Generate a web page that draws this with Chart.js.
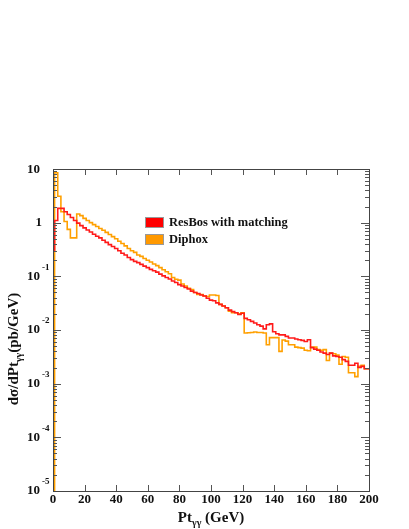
<!DOCTYPE html>
<html>
<head>
<meta charset="utf-8">
<title>Pt gamma-gamma spectrum</title>
<script src="https://cdn.jsdelivr.net/npm/chart.js@4.4.1/dist/chart.umd.min.js"></script>
<style>
  html, body { margin: 0; padding: 0; background: #fff; }
  #wrap { width: 409px; height: 529px; }
</style>
</head>
<body>
<div id="wrap"><canvas id="chart" width="409" height="529"></canvas></div>
<script>
// histogram binning (GeV)
const firstEdge = 1;
const binWidth = 2;

// dσ/dPt (pb/GeV), one value per 2 GeV bin starting at 1 GeV
const resbos = [
  1.1, 1.85, 1.85, 1.6, 1.42, 1.25, 1.1, 0.98, 0.88, 0.8,
  0.73, 0.67, 0.61, 0.56, 0.52, 0.47, 0.43, 0.39, 0.36, 0.33,
  0.3, 0.27, 0.25, 0.225, 0.205, 0.19, 0.18, 0.167, 0.155, 0.145,
  0.135, 0.127, 0.12, 0.11, 0.102, 0.095, 0.089, 0.082, 0.077, 0.07,
  0.066, 0.062, 0.058, 0.053, 0.05, 0.048, 0.045, 0.043, 0.039, 0.036,
  0.035, 0.032, 0.03, 0.028, 0.026, 0.0235, 0.022, 0.021, 0.0195, 0.0205,
  0.0165, 0.0155, 0.0145, 0.0135, 0.0125, 0.0118, 0.0105, 0.0125, 0.013, 0.0093,
  0.0085, 0.0081, 0.0081, 0.0076, 0.0071, 0.0071, 0.0068, 0.0066, 0.0064, 0.0061,
  0.0066, 0.0047, 0.0044, 0.0042, 0.0039, 0.0037, 0.0035, 0.0037, 0.0033, 0.0032,
  0.0031, 0.0028, 0.0026, 0.0022, 0.0022, 0.0024, 0.002, 0.0021, 0.0019, 0.0019
];
const diphox = [
  8.5, 3.1, 1.6, 1.05, 0.75, 0.52, 0.52, 1.45, 1.35, 1.2,
  1.1, 1.0, 0.92, 0.85, 0.78, 0.72, 0.66, 0.6, 0.55, 0.5,
  0.45, 0.41, 0.37, 0.33, 0.3, 0.28, 0.25, 0.235, 0.215, 0.2,
  0.185, 0.17, 0.158, 0.145, 0.133, 0.122, 0.112, 0.095, 0.088, 0.085,
  0.072, 0.066, 0.06, 0.057, 0.05, 0.046, 0.046, 0.043, 0.042, 0.045,
  0.045, 0.044, 0.03, 0.028, 0.026, 0.0225, 0.021, 0.021, 0.02, 0.021,
  0.0088, 0.0089, 0.009, 0.0092, 0.009, 0.009, 0.0088, 0.0053, 0.0072, 0.0072,
  0.0072, 0.004, 0.0065, 0.0062, 0.0053, 0.0053, 0.0048, 0.0047, 0.0046, 0.0042,
  0.0041, 0.0048, 0.0048, 0.0043, 0.0042, 0.0043, 0.0027, 0.0037, 0.0036, 0.0034,
  0.0023, 0.0032, 0.0031, 0.0016, 0.0016, 0.00135, 0.0021, 0.0022, 0.0019, 0.0019
];
// value of the left-most piece before the first bin
const resbosStart = 0.3;
const diphoxStart = 1e-7;

const seriesNames = ["ResBos with matching", "Diphox"];
const seriesColors = ["#ff1a1a", "#ffa000"];
const legendColors = ["#ff0000", "#ff9900"];
const xTicks = [0, 20, 40, 60, 80, 100, 120, 140, 160, 180, 200];
const yDecades = [-5, -4, -3, -2, -1, 0, 1];

const serif = '"Liberation Serif", "DejaVu Serif", serif';

// build step points: one at each bin lower edge, plus closing edge
function histPoints(values, startValue) {
  const pts = [{ x: 0, y: startValue }];
  values.forEach((v, i) => pts.push({ x: firstEdge + i * binWidth, y: v }));
  pts.push({ x: firstEdge + values.length * binWidth, y: values[values.length - 1] });
  return pts;
}

// frame, ticks, labels, titles and legend
const decorations = {
  id: "decorations",
  afterDraw(chart) {
    const ctx = chart.ctx;
    const area = chart.chartArea;
    const xs = chart.scales.x;
    const ys = chart.scales.y;
    ctx.save();

    // ticks
    ctx.strokeStyle = "#555";
    ctx.lineWidth = 1;
    ctx.beginPath();
    xTicks.forEach(t => {
      const px = Math.round(xs.getPixelForValue(t)) + 0.5;
      ctx.moveTo(px, area.bottom); ctx.lineTo(px, area.bottom - 6);
      ctx.moveTo(px, area.top); ctx.lineTo(px, area.top + 6);
    });
    yDecades.forEach(d => {
      for (let m = 1; m <= 9; m++) {
        if (d === 1 && m > 1) continue;
        const py = Math.round(ys.getPixelForValue(m * Math.pow(10, d))) + 0.5;
        const len = m === 1 ? 8 : 4;
        ctx.moveTo(area.left, py); ctx.lineTo(area.left + len, py);
        ctx.moveTo(area.right, py); ctx.lineTo(area.right - len, py);
      }
    });
    ctx.stroke();

    // frame
    ctx.strokeStyle = "#444";
    ctx.strokeRect(Math.round(area.left) + 0.5, Math.round(area.top) + 0.5,
      Math.round(area.right - area.left), Math.round(area.bottom - area.top));

    // x tick labels
    ctx.fillStyle = "#111";
    ctx.font = "bold 13px " + serif;
    ctx.textAlign = "center";
    ctx.textBaseline = "middle";
    xTicks.forEach(t => ctx.fillText(String(t), xs.getPixelForValue(t), area.bottom + 9));

    // y tick labels
    yDecades.forEach(d => {
      const py = ys.getPixelForValue(Math.pow(10, d));
      ctx.font = "bold 13px " + serif;
      ctx.textAlign = "right";
      ctx.textBaseline = "middle";
      if (d === 0) {
        ctx.fillText("1", 42, py);
      } else if (d === 1) {
        ctx.fillText("10", 40, py + 1);
      } else {
        ctx.fillText("10", 40, py);
        ctx.font = "bold 9px " + serif;
        ctx.textAlign = "left";
        ctx.fillText(String(d), 42, py - 9);
      }
    });

    // x title
    ctx.textAlign = "left";
    ctx.textBaseline = "alphabetic";
    const big = "bold 15px " + serif;
    const small = "bold 10px " + serif;
    ctx.font = big; const w1 = ctx.measureText("Pt").width;
    ctx.font = small; const w2 = ctx.measureText("γγ").width;
    ctx.font = big; const w3 = ctx.measureText(" (GeV)").width;
    let x0 = 211 - (w1 + w2 + w3) / 2;
    const by = 522;
    ctx.font = big; ctx.fillText("Pt", x0, by);
    ctx.font = small; ctx.fillText("γγ", x0 + w1, by + 4);
    ctx.font = big; ctx.fillText(" (GeV)", x0 + w1 + w2, by);

    // y title (rotated)
    ctx.save();
    ctx.translate(18, 349);
    ctx.rotate(-Math.PI / 2);
    ctx.font = big; const v1 = ctx.measureText("dσ/dPt").width;
    ctx.font = small; const v2 = ctx.measureText("γγ").width;
    ctx.font = big; const v3 = ctx.measureText("(pb/GeV)").width;
    x0 = -(v1 + v2 + v3) / 2;
    ctx.font = big; ctx.fillText("dσ/dPt", x0, 0);
    ctx.font = small; ctx.fillText("γγ", x0 + v1, 4);
    ctx.font = big; ctx.fillText("(pb/GeV)", x0 + v1 + v2, 0);
    ctx.restore();

    // legend
    seriesNames.forEach((name, i) => {
      const top = 217 + i * 17;
      ctx.fillStyle = legendColors[i];
      ctx.fillRect(145, top, 18, 10);
      ctx.strokeStyle = "#999";
      ctx.strokeRect(145.5, top + 0.5, 18, 10);
      ctx.fillStyle = "#111";
      ctx.font = "bold 12.5px " + serif;
      ctx.textBaseline = "middle";
      ctx.fillText(name, 169, top + 5.5);
    });

    ctx.restore();
  }
};

new Chart(document.getElementById("chart"), {
  type: "line",
  data: {
    datasets: [
      {
        label: seriesNames[0],
        data: histPoints(resbos, resbosStart),
        borderColor: seriesColors[0],
        stepped: true
      },
      {
        label: seriesNames[1],
        data: histPoints(diphox, diphoxStart),
        borderColor: seriesColors[1],
        stepped: true
      }
    ]
  },
  options: {
    responsive: false,
    animation: false,
    devicePixelRatio: 1,
    layout: { padding: { left: 53, right: 40, top: 169, bottom: 38 } },
    elements: {
      point: { radius: 0 },
      line: { borderWidth: 1.6, fill: false, tension: 0 }
    },
    scales: {
      x: { type: "linear", min: 0, max: 200, display: false },
      y: { type: "logarithmic", min: 1e-5, max: 10, display: false }
    },
    plugins: {
      legend: { display: false },
      tooltip: { enabled: false }
    }
  },
  plugins: [decorations]
});
</script>
</body>
</html>
